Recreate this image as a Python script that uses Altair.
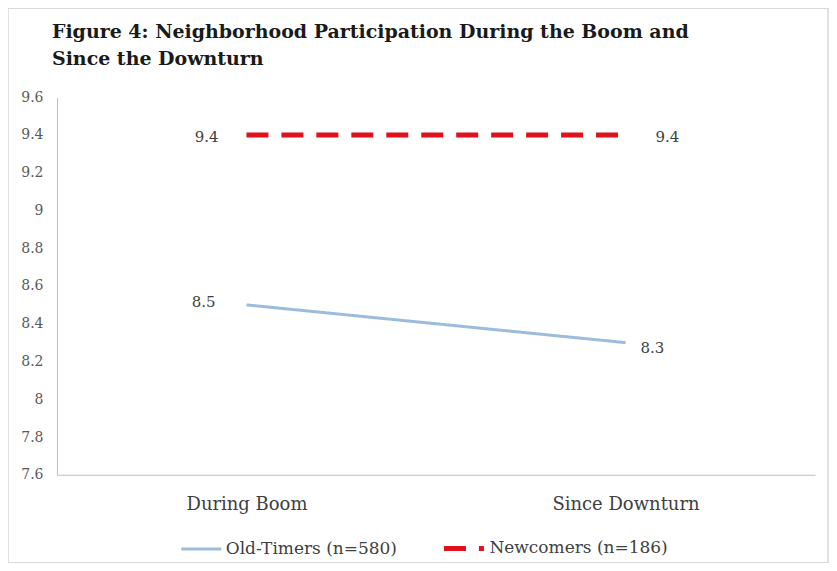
import altair as alt
import pandas as pd

periods = ["During Boom", "Since Downturn"]
series_names = ["Old-Timers (n=580)", "Newcomers (n=186)"]
old_timers = [8.5, 8.3]
newcomers = [9.4, 9.4]
y_ticks = [7.6, 7.8, 8.0, 8.2, 8.4, 8.6, 8.8, 9.0, 9.2, 9.4, 9.6]
title_lines = ["Figure 4: Neighborhood Participation During the Boom and",
               "Since the Downturn"]

rows = []
for s, vals in zip(series_names, [old_timers, newcomers]):
    for p, v in zip(periods, vals):
        rows.append({"period": p, "series": s, "value": v})
df = pd.DataFrame(rows)

SERIF = "DejaVu Serif"
BLUE = "#9BBCDB"
RED = "#E0101C"

x_enc = alt.X("period:N", sort=periods,
              scale=alt.Scale(type="point", padding=0.5),
              axis=alt.Axis(title=None, labelAngle=0, ticks=False,
                            domainColor="#BFBFBF", labelFont=SERIF,
                            labelFontSize=18, labelColor="#404040",
                            labelPadding=21))
y_enc = alt.Y("value:Q",
              scale=alt.Scale(domain=[7.6, 9.6], nice=False, zero=False),
              axis=alt.Axis(title=None, values=y_ticks, grid=False, ticks=False,
                            domainColor="#BFBFBF", labelFont=SERIF,
                            labelFontSize=14, labelColor="#595959",
                            labelPadding=14, labelOverlap=False,
                            labelExpr="format(datum.value, '.1~f')"))

lines = alt.Chart(df).mark_line().encode(
    x=x_enc,
    y=y_enc,
    color=alt.Color("series:N", sort=series_names,
                    scale=alt.Scale(domain=series_names, range=[BLUE, RED]),
                    legend=alt.Legend(title=None, orient="none", direction="horizontal",
                                      legendX=123, legendY=429,
                                      symbolType="stroke", symbolSize=1600,
                                      labelFont=SERIF, labelFontSize=17,
                                      labelColor="#404040", labelOffset=3,
                                      labelLimit=400, columnPadding=36)),
    strokeDash=alt.StrokeDash("series:N", sort=series_names,
                              scale=alt.Scale(domain=series_names,
                                              range=[[1, 0], [22, 13]]),
                              legend=alt.Legend(title=None, labelLimit=400)),
    strokeWidth=alt.StrokeWidth("series:N", sort=series_names,
                                scale=alt.Scale(domain=series_names, range=[3, 5]),
                                legend=alt.Legend(title=None, labelLimit=400)),
)


def label_layer(series, period, align, dx, dy):
    return alt.Chart(df).transform_filter(
        (alt.datum.series == series) & (alt.datum.period == period)
    ).mark_text(align=align, baseline="middle", dx=dx, dy=dy,
                font=SERIF, fontSize=15, color="#404040").encode(
        x=x_enc, y=y_enc,
        text=alt.Text("value:Q", format=".1f"))


labels = [
    label_layer(series_names[1], periods[0], "right", -28, 2),
    label_layer(series_names[1], periods[1], "left", 30, 2),
    label_layer(series_names[0], periods[0], "right", -31, -3),
    label_layer(series_names[0], periods[1], "left", 15, 5),
]

frame = alt.Chart(alt.Data(values=[{}])).mark_rect(
    fill=None, stroke="#D9D9D9", strokeWidth=1.5).encode(
    x=alt.value(-49), x2=alt.value(772), y=alt.value(-89), y2=alt.value(466))

chart = alt.layer(frame, lines, *labels).properties(
    width=759, height=378,
    title=alt.TitleParams(text=title_lines, anchor="start", frame="group",
                          font=SERIF, fontSize=19, fontWeight="bold",
                          baseline="alphabetic",
                          color="#1a1a1a", dx=-5, dy=88, offset=12, lineHeight=27),
    autosize="none",
    padding={"left": 49, "top": 89, "right": 14, "bottom": 88},
).configure_view(stroke=None).configure_axisY(labelOverlap=False).resolve_scale(
    x="shared", y="shared")

chart.save("out.html", embed_options={"renderer": "svg", "actions": False})
